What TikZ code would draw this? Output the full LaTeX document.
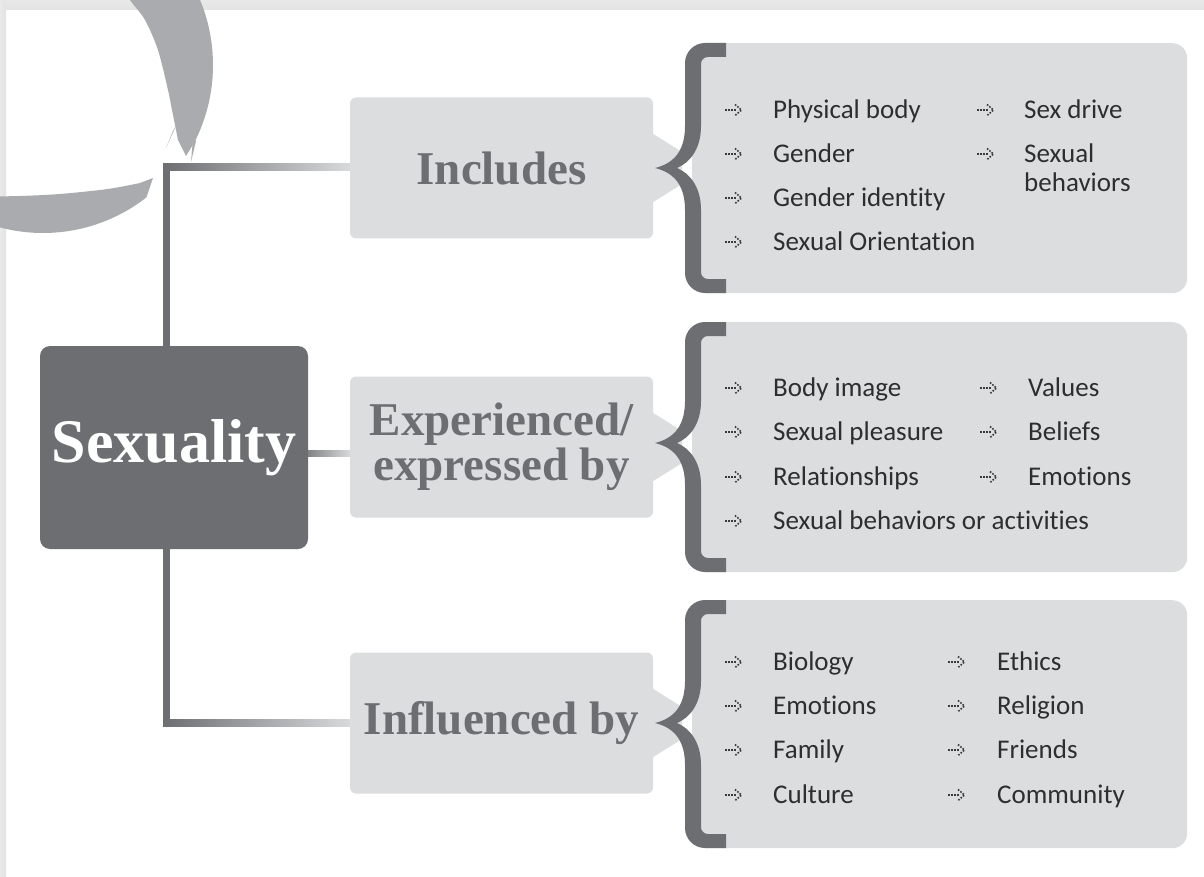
\documentclass[tikz,border=0pt]{standalone}
\usepackage{fontspec}
\setmainfont{Liberation Serif}
\newfontfamily\itemfont[Ligatures=NoCommon]{Carlito}
\usetikzlibrary{calc}
\definecolor{dk}{HTML}{6D6E71}
\definecolor{lg}{HTML}{DCDDDF}
\definecolor{brushc}{HTML}{A9ABAE}
\definecolor{txt}{HTML}{2E2E2E}
\definecolor{bulc}{HTML}{3A3A3A}
\definecolor{fadegray}{HTML}{D8D9DB}
\definecolor{shadowgray}{HTML}{E3E3E3}
\tikzset{
  labelbox/.style={fill=lg, rounded corners=6pt, inner sep=0pt, minimum width=303pt, minimum height=141pt,
                   text=dk, font=\bfseries\fontsize{47}{45}\selectfont, align=center},
  panel/.style={fill=lg, rounded corners=15pt, anchor=north west, inner sep=0pt, minimum width=495pt, minimum height=250pt},
  itm/.style={anchor=base west, text=txt, font=\itemfont\fontsize{27}{29}\selectfont, inner sep=0pt},
  bulline/.style={bulc, line width=1.6pt, dash pattern=on 1.6pt off 1.4pt},
  bul/.pic={\draw[bulline] (0,0) -- (11,0); \draw[bulline] (10,-5.5) -- (16.5,0) -- (10,5.5);},
}
\newcommand\bitem[5]{\pic at (#1,#3) {bul}; \node[itm] (#5) at (#2,#3+8.5) {#4};}
\newcommand\mybrace[3]{%
  \fill[dk] (726,#1) -- (705,#1) .. controls (694,#1) and (685,#1+9) .. (685,#1+20)
   -- (685,#2-42) .. controls (685,#2-14) and (671,#2-4) .. (655,#2)
   .. controls (671,#2+4) and (685,#2+14) .. (685,#2+42)
   -- (685,#3-20) .. controls (685,#3-9) and (694,#3) .. (705,#3)
   -- (726,#3) -- (726,#3-14) -- (708,#3-14) .. controls (704,#3-14) and (701,#3-17) .. (701,#3-21)
   -- (701,#2+42) .. controls (701,#2+18) and (689,#2+5) .. (677,#2)
   .. controls (689,#2-5) and (701,#2-18) .. (701,#2-42)
   -- (701,#1+21) .. controls (701,#1+17) and (704,#1+14) .. (708,#1+14) -- (726,#1+14) -- cycle;}
\newcommand\mytab[1]{\fill[lg] (650,#1-36) -- (682,#1-16) -- (682,#1+16) -- (650,#1+36) -- cycle;}
\begin{document}
\begin{tikzpicture}[x=1pt,y=-1pt]
\useasboundingbox (0,0) rectangle (1204,877);
\fill[white] (0,0) rectangle (1204,877);
% page shadow
\shade[top color=shadowgray!80, bottom color=shadowgray] (0,0) rectangle (1204,10);
\shade[left color=shadowgray!80, right color=shadowgray] (0,0) rectangle (6,877);
% brush circle
\fill[brushc] (163.2,-55.2) arc[start angle=-45, end angle=27, radius=170] -- (186,156)
  -- plot[smooth] coordinates {(178,140) (172,110) (168,90) (158,50) (145,20) (130,0) (110,-30)} -- cycle;
\fill[brushc] (176,126) -- (166,148) -- (173,131) -- cycle;
\fill[brushc] (193,138) -- (191,162) -- (196,141) -- cycle;
\fill[brushc] (-41,210.5) arc[start angle=120, end angle=52, radius=168] -- (153,178)
  -- plot[smooth] coordinates {(140,183) (120,187) (100,190) (60,194) (20,196) (-41,197)} -- cycle;
% panels
\node[panel] (p1) at (692,43) {};
\node[panel] (p2) at (692,322) {};
\node[panel, minimum height=248pt] (p3) at (692,600) {};
% tabs
\mytab{168}
\mytab{447}
\mytab{723}
% braces
\mybrace{43}{168}{293}
\mybrace{322}{443}{572}
\mybrace{600}{723}{848}
% central box and labels
\node[fill=dk, rounded corners=10pt, inner sep=0pt, minimum width=268pt, minimum height=203pt,
      text=white, font=\bfseries\fontsize{62}{62}\selectfont] (sex) at (174,447.5) {Sexuality};
\node[labelbox] (inc) at (501.5,168) {Includes};
\node[labelbox] (exp) at (501.5,447) {Experienced/\\expressed by};
\node[labelbox] (inf) at (501.5,723) {Influenced by};
% connectors
\coordinate (ct) at (166.5,167.5);
\coordinate (cb) at (166.5,722.5);
\draw[dk, line width=7pt] (sex.north -| ct) -- ($(ct)+(0,-3.5)$);
\draw[dk, line width=7pt] (sex.south -| ct) -- ($(cb)+(0,3.5)$);
\shade[left color=dk, right color=fadegray] ($(ct)+(-3.5,-3.5)$) rectangle ($(inc.west |- ct)+(0,3.5)$);
\shade[left color=dk, right color=fadegray] ($(cb)+(-3.5,-3.5)$) rectangle ($(inf.west |- cb)+(0,3.5)$);
\shade[left color=dk!85!white, right color=fadegray] ($(sex.east)+(0,2.5)$) rectangle ($(exp.west)+(0,9.5)$);
% items: includes
\bitem{725}{773}{110}{Physical body}{i1}
\bitem{725}{773}{154}{Gender}{i2}
\bitem{725}{773}{198}{Gender identity}{i3}
\bitem{725}{773}{242}{Sexual Orientation}{i4}
\bitem{977}{1024}{110}{Sex drive}{i5}
\bitem{977}{1024}{154}{Sexual}{i6}
\node[itm] (i7) at (1024,191.5) {behaviors};
% items: experienced
\bitem{725}{773}{388}{Body image}{e1}
\bitem{725}{773}{432}{Sexual pleasure}{e2}
\bitem{725}{773}{477}{Relationships}{e3}
\bitem{725}{773}{521}{Sexual behaviors or activities}{e4}
\bitem{980}{1028}{388}{Values}{e5}
\bitem{980}{1028}{432}{Beliefs}{e6}
\bitem{980}{1028}{477}{Emotions}{e7}
% items: influenced
\bitem{725}{773}{662}{Biology}{f1}
\bitem{725}{773}{706}{Emotions}{f2}
\bitem{725}{773}{750}{Family}{f3}
\bitem{725}{773}{795}{Culture}{f4}
\bitem{948}{997}{662}{Ethics}{f5}
\bitem{948}{997}{706}{Religion}{f6}
\bitem{948}{997}{750}{Friends}{f7}
\bitem{948}{997}{795}{Community}{f8}
\end{tikzpicture}
\end{document}
